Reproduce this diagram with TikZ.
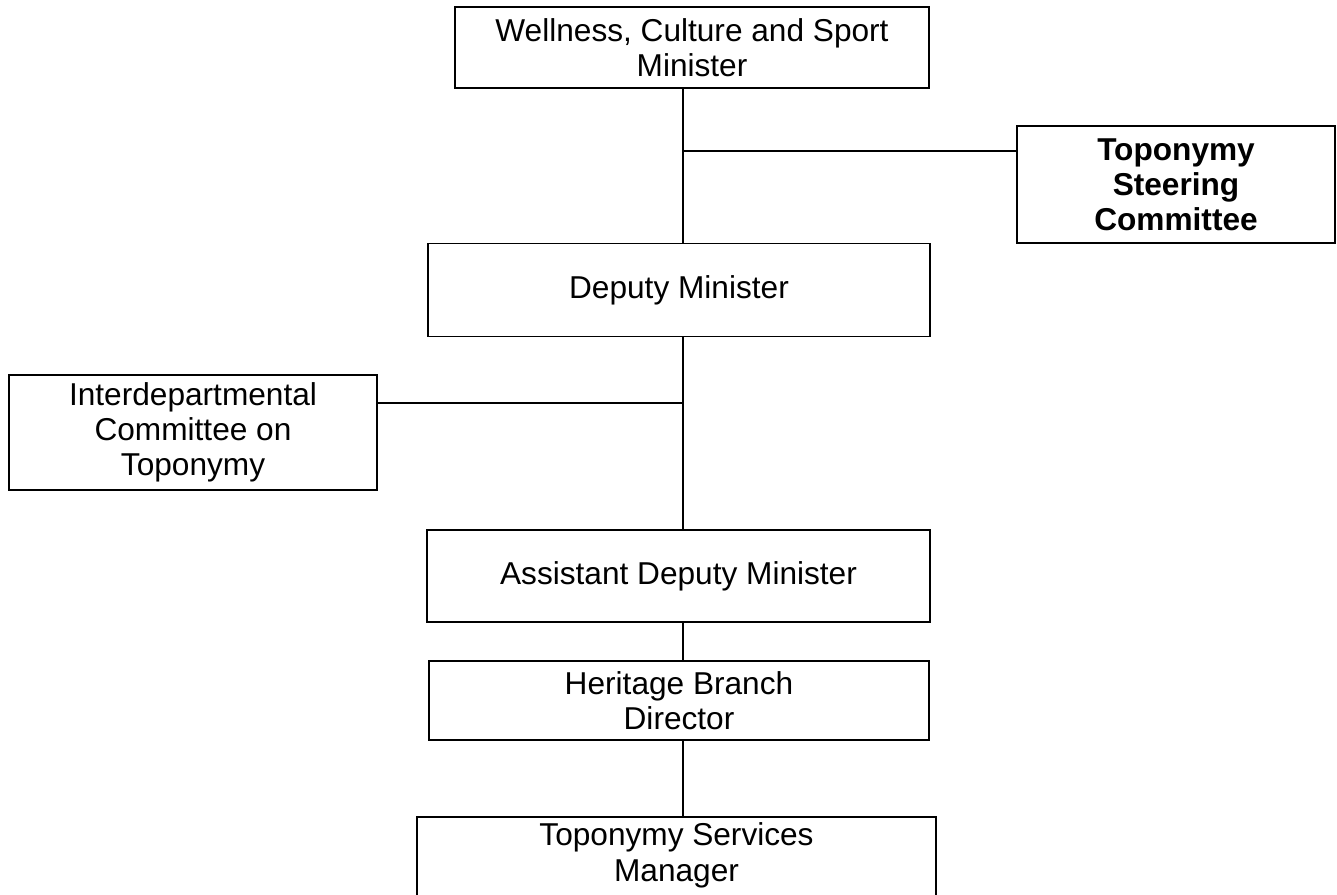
\documentclass[tikz,border=0pt]{standalone}
\usepackage{fontspec}
\setmainfont{Liberation Sans}
\usetikzlibrary{calc}

\begin{document}
\begin{tikzpicture}[x=0.02cm,y=-0.02cm,
        box/.style={draw, line width=1.1pt, rectangle, align=center, inner sep=0pt,
            font=\fontsize{18}{20}\selectfont},
        link/.style={line width=0.8pt}]
        \useasboundingbox (0,0) rectangle (1337,894);

        \coordinate (spine) at (683,0);
        \coordinate (SJ) at (683,151);
        \coordinate (IJ) at (683,403);

        \node[box, minimum width=9.48cm, minimum height=1.62cm] (wcs) at (692,47.5) {Wellness, Culture and Sport\\Minister};
        \node[box, minimum width=6.36cm, minimum height=2.34cm, font=\fontsize{18}{20}\selectfont\bfseries] (steer) at (1176,184.5) {Toponymy\\Steering\\Committee};
        \node[box, minimum width=10.04cm, minimum height=1.86cm] (dep) at (679,290) {Deputy Minister};
        \node[box, minimum width=7.36cm, minimum height=2.3cm] (inter) at (193,432.5) {Interdepartmental\\Committee on\\Toponymy};
        \node[box, minimum width=10.06cm, minimum height=1.84cm] (asst) at (678.5,576) {Assistant Deputy Minister};
        \node[box, minimum width=10cm, minimum height=1.58cm] (her) at (679,700.5) {Heritage Branch\\Director};
        \node[box, minimum width=10.38cm, inner ysep=0.12cm, text depth=2cm, anchor=north] (mgr) at (676.5,816) {Toponymy Services\\Manager};

        \foreach \a/\b in {wcs/dep, dep/asst, asst/her, her/mgr}{
            \draw[link] (\a.south -| spine) -- (\b.north -| spine);
        }
        \draw[link] (SJ) -- (SJ -| steer.west);
        \draw[link] (IJ) -- (IJ -| inter.east);
    \end{tikzpicture}
\end{document}
